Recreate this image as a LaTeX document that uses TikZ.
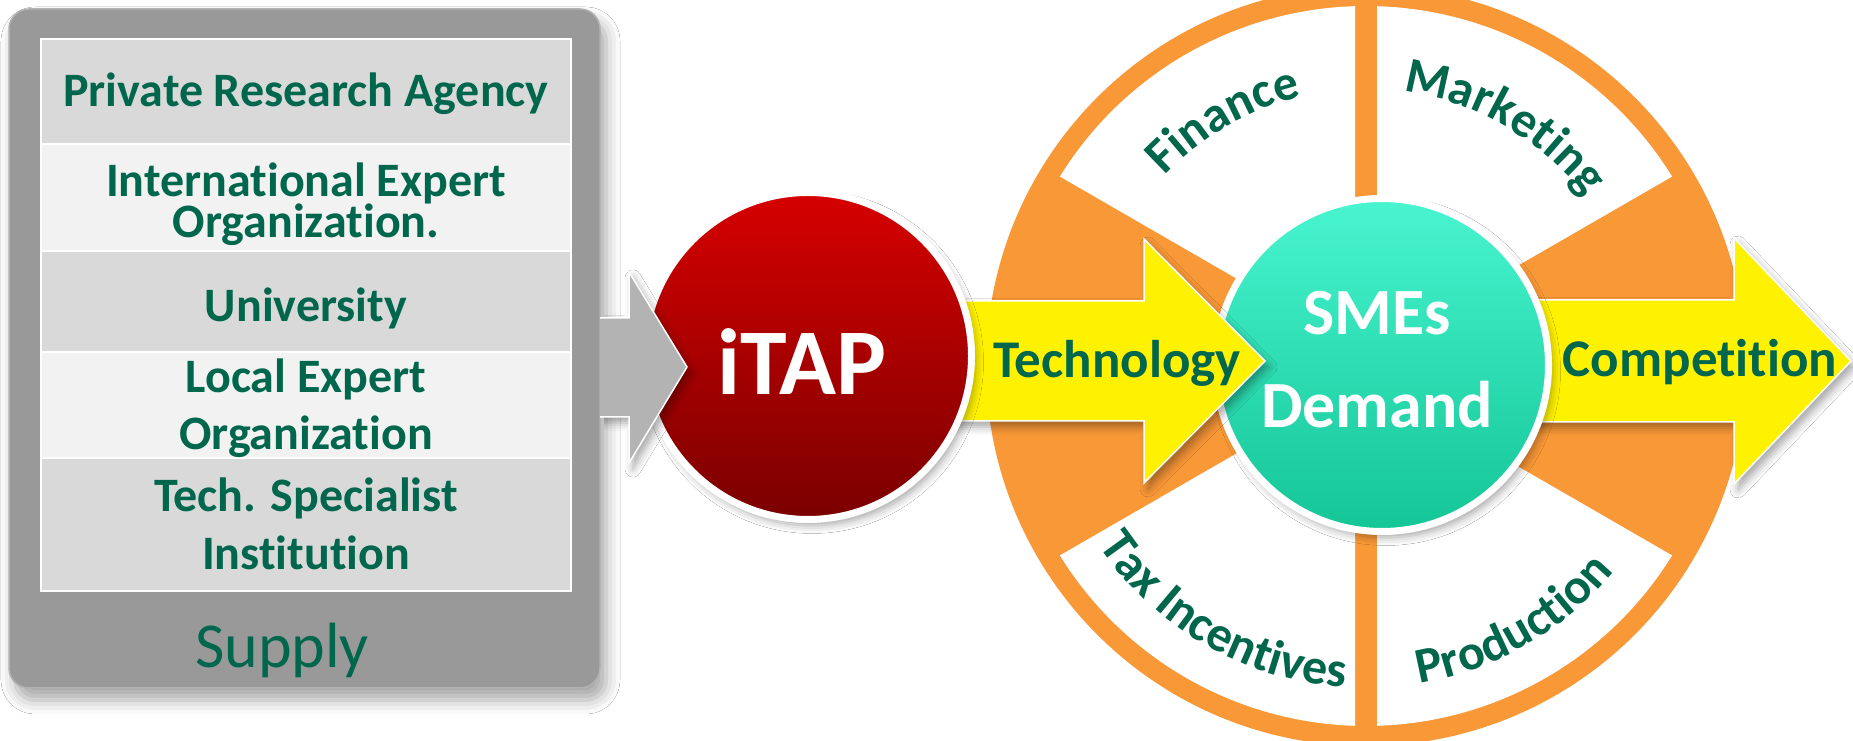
\documentclass[tikz,border=0pt]{standalone}
\usepackage{fontspec}
\setmainfont[Ligatures=NoCommon]{Carlito}
\usetikzlibrary{shadows.blur,decorations.text}

\definecolor{labelgreen}{RGB}{0,102,76}
\definecolor{panelgray}{RGB}{153,153,153}
\definecolor{rowdark}{RGB}{217,217,217}
\definecolor{rowlight}{RGB}{242,242,242}
\definecolor{arrowgray}{RGB}{179,179,179}
\definecolor{ringorange}{RGB}{249,152,55}
\definecolor{redtop}{RGB}{214,0,0}
\definecolor{redbottom}{RGB}{122,0,0}
\definecolor{tealtop}{RGB}{72,245,208}
\definecolor{tealbottom}{RGB}{20,197,150}

\newcommand\wedgefont{\fontsize{50}{50}\selectfont\bfseries\color{labelgreen}}

\tikzset{
  rowtext/.style={anchor=base, inner sep=0pt, text=labelgreen, font=\fontsize{48}{50}\selectfont\bfseries},
  arrowtext/.style={anchor=base, inner sep=0pt, text=labelgreen, font=\fontsize{53}{53}\selectfont\bfseries},
  balltext/.style={anchor=base, inner sep=0pt, text=white, font=\fontsize{66}{66}\selectfont\bfseries},
  softshadow/.style={blur shadow={shadow xshift=4pt, shadow yshift=-6pt, shadow blur radius=8pt, shadow opacity=35}},
  fatarrow/.style={fill=yellow, draw=white, line width=1.5pt, softshadow}
}

\begin{document}
\begin{tikzpicture}[x=1pt,y=1pt]
\newcommand\supplyrow[3]{
\path[draw=white, line width=2pt, fill=#3] (41,#1) rectangle (571,#2);
}
\newcommand\whitewedge[2]{
\path[fill=white, shift={(1366,375)}] ({(#1+#2)/2}:22) -- ({#1+1.75}:360)
  arc[start angle={#1+1.75}, end angle={#2-1.75}, radius=360] -- cycle;
}
\newcommand\wedgelabel[4]{
\path[shift={(1366,375)}, decorate,
  decoration={text along path, text align=center, text={|\wedgefont|#4}}]
  (#1:#3) arc[start angle=#1, end angle=#2, radius=#3];
}

\useasboundingbox (0,0) rectangle (1853,741);
\clip (0,0) rectangle (1853,741);
\fill[white] (0,0) rectangle (1853,741);

% supply panel
\path[draw=gray!60, line width=1.5pt, fill=panelgray, rounded corners=20pt,
  blur shadow={shadow xshift=6pt, shadow yshift=-12pt, shadow blur radius=14pt, shadow opacity=35}]
  (9,53) rectangle (600,732);
\supplyrow{702}{597}{rowdark}
\supplyrow{597}{490}{rowlight}
\supplyrow{490}{389}{rowdark}
\supplyrow{389}{283}{rowlight}
\supplyrow{283}{150}{rowdark}

\node[rowtext] (agency) at (306,634) {Private Research Agency};
\node[rowtext] (intl1) at (306,544) {International Expert};
\node[rowtext] (intl2) at (306,503) {Organization.};
\node[rowtext] (univ) at (306,419) {University};
\node[rowtext] (local1) at (306,348) {Local Expert};
\node[rowtext] (local2) at (306,291) {Organization};
\node[rowtext] (tech1) at (306,229) {Tech. Specialist};
\node[rowtext] (tech2) at (306,171) {Institution};
\node[anchor=base, inner sep=0pt, text=labelgreen, font=\fontsize{64}{70}\selectfont] (supply) at (282,73) {Supply};

% demand wheel
\path[fill=ringorange] (1366,375) circle[radius=380];
\whitewedge{30}{90}
\whitewedge{90}{150}
\whitewedge{210}{270}
\whitewedge{270}{330}

\wedgelabel{160}{80}{277}{Finance}
\wedgelabel{100}{20}{277}{Marketing}
\wedgelabel{-160}{-80}{322}{Tax Incentives}
\wedgelabel{-100}{-20}{322}{Production}

% competition arrow
\path[fatarrow] (1500,319) -- (1734,319) -- (1734,257) -- (1851,380)
  -- (1734,503) -- (1734,441) -- (1500,441) -- cycle;

% SMEs ball
\node[circle, minimum size=333pt, draw=white, line width=7pt,
  top color=tealtop, bottom color=tealbottom, softshadow] (smes) at (1382,376) {};
\node[balltext] (smes1) at (1377,406) {SMEs};
\node[balltext] (smes2) at (1377,313) {Demand};

% technology arrow
\path[fatarrow] (900,320) -- (1144,320) -- (1144,258) -- (1265,380)
  -- (1144,502) -- (1144,440) -- (900,440) -- cycle;

% iTAP ball
\node[circle, minimum size=327pt, draw=white, line width=7pt,
  top color=redtop, bottom color=redbottom, softshadow] (itap) at (808,385) {};
\node[anchor=base, inner sep=0pt, text=white, font=\fontsize{94}{94}\selectfont\bfseries] (itaptext) at (802,346) {iTAP};

% gray arrow into iTAP
\path[fill=arrowgray, draw=white, line width=1.5pt, softshadow]
  (600,423) -- (629,423) -- (629,469) -- (687,374) -- (629,278) -- (629,324) -- (600,324);

\node[arrowtext] (techtext) at (1117,363) {Technology};
\node[arrowtext] (comptext) at (1700,364) {Competition};
\end{tikzpicture}
\end{document}
